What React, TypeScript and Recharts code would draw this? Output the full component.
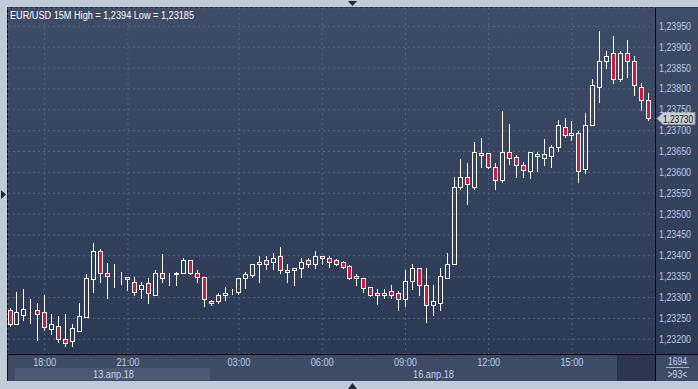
import React from 'react';
import { ComposedChart, Bar, XAxis, YAxis, CartesianGrid, ReferenceLine, Label } from 'recharts';

// ---- data (EUR/USD 15M candles) ----
const opens = [
  1.2327, 1.23236, 1.23259, 1.2327, 1.2327, 1.23265, 1.23225, 1.23231, 1.23201, 1.23195,
  1.23221, 1.23254, 1.23345, 1.23412, 1.2336, 1.23346, 1.2335, 1.2335, 1.23338, 1.2332,
  1.23335, 1.23306, 1.2336, 1.23356, 1.23356, 1.2336, 1.2339, 1.2336, 1.2335, 1.23291,
  1.23291, 1.23305, 1.23314, 1.23314, 1.23346, 1.23354, 1.2338, 1.2339, 1.23385, 1.23399,
  1.23366, 1.23366, 1.2337, 1.2339, 1.2338, 1.23399, 1.23394, 1.2339, 1.23385, 1.23375,
  1.23351, 1.23346, 1.23325, 1.2331, 1.23305, 1.23315, 1.2331, 1.23296, 1.2334, 1.23371,
  1.2333, 1.23282, 1.23286, 1.23347, 1.23381, 1.23565, 1.2359, 1.23565, 1.23646, 1.23646,
  1.23612, 1.23581, 1.2365, 1.23636, 1.23617, 1.23604, 1.23644, 1.23634, 1.23639, 1.23661,
  1.23709, 1.2369, 1.23694, 1.23609, 1.23714, 1.23805, 1.23866, 1.23885, 1.23825, 1.23885,
  1.23866, 1.23805, 1.23774,
];
const highs = [
  1.23274, 1.23314, 1.2332, 1.23297, 1.23288, 1.23306, 1.2326, 1.23256, 1.2326, 1.23237,
  1.23286, 1.23357, 1.2343, 1.23416, 1.23382, 1.2338, 1.23361, 1.2335, 1.2335, 1.23338,
  1.23346, 1.23366, 1.23404, 1.2336, 1.23362, 1.23394, 1.2339, 1.23366, 1.2335, 1.23293,
  1.23312, 1.23325, 1.23321, 1.23347, 1.23362, 1.2338, 1.234, 1.234, 1.23406, 1.23421,
  1.2338, 1.2337, 1.23394, 1.23394, 1.23412, 1.234, 1.234, 1.23392, 1.23387, 1.23377,
  1.23357, 1.23346, 1.23326, 1.23321, 1.23321, 1.2333, 1.23315, 1.23366, 1.23381, 1.23371,
  1.23371, 1.2333, 1.23371, 1.23406, 1.2359, 1.23632, 1.23622, 1.23673, 1.23683, 1.23647,
  1.23622, 1.23748, 1.23716, 1.23641, 1.23626, 1.2365, 1.23649, 1.23681, 1.23666, 1.23726,
  1.23731, 1.23722, 1.237, 1.23742, 1.23825, 1.2394, 1.2389, 1.23927, 1.2389, 1.23917,
  1.2388, 1.23815, 1.23791,
];
const lows = [
  1.23232, 1.23236, 1.23245, 1.2324, 1.23198, 1.23222, 1.23213, 1.23194, 1.23185, 1.23185,
  1.23221, 1.23254, 1.23314, 1.23338, 1.233, 1.23325, 1.23333, 1.23318, 1.23306, 1.233,
  1.23286, 1.23306, 1.23338, 1.2333, 1.2333, 1.2336, 1.23356, 1.23338, 1.2328, 1.23281,
  1.23287, 1.23295, 1.23308, 1.23309, 1.23324, 1.2335, 1.23338, 1.23369, 1.23369, 1.2336,
  1.23338, 1.23329, 1.2335, 1.23374, 1.2337, 1.2338, 1.23374, 1.23378, 1.23372, 1.23344,
  1.23329, 1.23314, 1.23303, 1.23285, 1.233, 1.233, 1.23269, 1.2328, 1.23321, 1.23305,
  1.23241, 1.23258, 1.2327, 1.23347, 1.23381, 1.23561, 1.23524, 1.23561, 1.23612, 1.23611,
  1.23561, 1.23576, 1.23621, 1.2359, 1.23588, 1.23587, 1.23604, 1.23618, 1.23614, 1.23652,
  1.23684, 1.23678, 1.23578, 1.23599, 1.23714, 1.23768, 1.2385, 1.23815, 1.23819, 1.23829,
  1.23785, 1.2375, 1.23725,
];
const closes = [
  1.23236, 1.23265, 1.23273, 1.2327, 1.2326, 1.2323, 1.23236, 1.232, 1.2319, 1.23226,
  1.23255, 1.23346, 1.23411, 1.2336, 1.23351, 1.23346, 1.2335, 1.23345, 1.23314, 1.2333,
  1.2331, 1.2336, 1.23346, 1.23356, 1.2336, 1.2339, 1.2336, 1.2335, 1.23296, 1.23287,
  1.23305, 1.2331, 1.23314, 1.23347, 1.23357, 1.2338, 1.23385, 1.2338, 1.23394, 1.23365,
  1.23361, 1.2337, 1.23385, 1.2338, 1.23399, 1.23394, 1.23385, 1.2338, 1.23374, 1.23346,
  1.23346, 1.23324, 1.23305, 1.23305, 1.2331, 1.23305, 1.23296, 1.2334, 1.23371, 1.2333,
  1.23282, 1.23291, 1.23351, 1.23381, 1.23565, 1.2359, 1.23571, 1.2365, 1.23641, 1.23612,
  1.23581, 1.2365, 1.23635, 1.23617, 1.23605, 1.23649, 1.23639, 1.23644, 1.23661, 1.23714,
  1.2369, 1.23694, 1.23604, 1.23714, 1.2381, 1.23866, 1.2388, 1.23825, 1.23885, 1.23866,
  1.2381, 1.23773, 1.2373,
];
const timeTickIndex = [5, 17, 33, 45, 57, 69, 81];
const timeTickLabels = ['18:00', '21:00', '03:00', '06:00', '09:00', '12:00', '15:00'];
const priceTicks = [1.232, 1.2325, 1.233, 1.2335, 1.234, 1.2345, 1.235, 1.2355, 1.236, 1.2365, 1.237, 1.2375, 1.238, 1.2385, 1.239, 1.2395];
const dateLabels = ['13.апр.18', '16.апр.18'];
const titleText = 'EUR/USD 15M High = 1,2394 Low = 1,23185';
const lastPrice = 1.2373;
const barCountLabel = '1694';
const visibleLabel = '>93<';

const data = opens.map((o, i) => ({
  i,
  o,
  h: highs[i],
  l: lows[i],
  c: closes[i],
  range: [lows[i], highs[i]],
}));

const FONT = '"Liberation Sans", Arial, sans-serif';
const AXIS_TEXT = '#b9cbe6';

const fmtPrice = (v: number) => v.toFixed(5).replace('.', ',');

const Candle = (props: any) => {
  const { x, y, width, height, payload } = props;
  if (payload == null || x == null || y == null) return null;
  const { o, h, l, c } = payload;
  const top = Math.min(y, y + height);
  const bot = Math.max(y, y + height);
  const k = h > l ? (bot - top) / (h - l) : 0;
  const py = (v: number) => top + (h - v) * k;
  const cx = Math.floor(x + width / 2) + 0.5;
  const bTop = Math.round(py(Math.max(o, c))) + 0.5;
  const bBot = Math.round(py(Math.min(o, c))) + 0.5;
  const wTop = Math.round(top);
  const wBot = Math.round(bot) + 1;
  const up = c >= o;
  return (
    <g>
      {wTop < bTop && <line x1={cx} x2={cx} y1={wTop} y2={bTop} stroke="#ffffff" strokeWidth={1} />}
      {wBot > bBot && <line x1={cx} x2={cx} y1={bBot} y2={wBot} stroke="#ffffff" strokeWidth={1} />}
      <rect
        x={cx - 2}
        y={bTop}
        width={4}
        height={Math.max(0, bBot - bTop)}
        fill={up ? 'none' : '#dc143c'}
        stroke="#ffffff"
        strokeWidth={1}
      />
    </g>
  );
};

const YTick = (props: any) => {
  const { y, payload } = props;
  return (
    <text x={659} y={y + 3.5} fill={AXIS_TEXT} fontSize={10} fontFamily={FONT} textLength={32} lengthAdjust="spacingAndGlyphs">
      {fmtPrice(payload.value)}
    </text>
  );
};

const XTick = (props: any) => {
  const { x, payload } = props;
  const idx = timeTickIndex.indexOf(payload.value);
  const label = idx >= 0 ? timeTickLabels[idx] : '';
  return (
    <text x={x} y={366} fill={AXIS_TEXT} fontSize={10} fontFamily={FONT} textAnchor="middle" textLength={23} lengthAdjust="spacingAndGlyphs">
      {label}
    </text>
  );
};

const PriceTag = (props: any) => {
  const vb = props.viewBox || {};
  const y = Math.round(vb.y ?? 0) + 0.5;
  const x0 = (vb.x ?? 0) + (vb.width ?? 0) + 2;
  return (
    <g>
      <path
        d={`M${x0},${y} L${x0 + 6},${y - 6} L${x0 + 38},${y - 6} L${x0 + 38},${y + 6} L${x0 + 6},${y + 6} Z`}
        fill="#c9cdd3"
        stroke="#8e949c"
        strokeWidth={1}
      />
      <text x={x0 + 6} y={y + 4} fill="#111111" fontSize={10} fontFamily={FONT} textLength={30} lengthAdjust="spacingAndGlyphs">
        {fmtPrice(lastPrice)}
      </text>
    </g>
  );
};

export default function App() {
  return (
    <div style={{ position: 'absolute', left: 0, top: 0, width: 698, height: 389, overflow: 'hidden' }}>
      {/* frame & backgrounds */}
      <svg width={698} height={389} style={{ position: 'absolute', left: 0, top: 0 }}>
        <defs>
          <linearGradient id="bgGrad" x1="0" y1="0" x2="0" y2="1">
            <stop offset="0%" stopColor="#3f4c67" />
            <stop offset="100%" stopColor="#2c3955" />
          </linearGradient>
        </defs>
        <rect x={0} y={0} width={698} height={389} fill="#c2ccd9" />
        <rect x={8} y={8} width={690} height={346} fill="url(#bgGrad)" />
        <rect x={8} y={355} width={690} height={26} fill="#3e4b65" />
        <rect x={15} y={368} width={195} height={12} fill="#4b5974" />
        <rect x={618} y={355} width={37} height={26} fill="#2b3651" />
        <rect x={617} y={355} width={1} height={26} fill="#243049" />
        <rect x={7} y={7} width={1} height={374} fill="#0c111c" />
        <rect x={7} y={7} width={691} height={1} fill="#283247" />
        <path d="M348,1 L357,1 L352.5,6 Z" fill="#1d2738" />
        <path d="M348,389 L357,389 L352.5,383 Z" fill="#1d2738" />
        <path d="M1,190 L1,199 L6,194.5 Z" fill="#1d2738" />
      </svg>

      <div style={{ position: 'absolute', left: 0, top: 0 }}>
        <ComposedChart width={698} height={389} data={data} margin={{ top: 8, right: 0, bottom: 0, left: 8 }}>
          <CartesianGrid stroke="#56637e" strokeDasharray="2 3" />
          <XAxis
            dataKey="i"
            type="number"
            domain={[-0.29, 92.97]}
            allowDataOverflow
            ticks={timeTickIndex}
            interval={0}
            height={35}
            axisLine={false}
            tickLine={false}
            tick={<XTick />}
          />
          <YAxis
            type="number"
            orientation="right"
            domain={[1.231647, 1.23994]}
            allowDataOverflow
            ticks={priceTicks}
            interval={0}
            width={43}
            axisLine={false}
            tickLine={false}
            tick={<YTick />}
          />
          <Bar dataKey="range" barSize={5} isAnimationActive={false} shape={(p: any) => <Candle {...p} />} />
          <ReferenceLine y={lastPrice} stroke="none" ifOverflow="visible">
            <Label content={(p: any) => <PriceTag {...p} />} />
          </ReferenceLine>
        </ComposedChart>
      </div>

      {/* overlay lines and texts */}
      <svg width={698} height={389} style={{ position: 'absolute', left: 0, top: 0, pointerEvents: 'none' }}>
        <rect x={655} y={8} width={1} height={373} fill="#000000" />
        <rect x={8} y={354} width={690} height={1} fill="#000000" />
        <text x={10} y={18.5} fill="#ffffff" fontSize={10} fontFamily={FONT} textLength={184} lengthAdjust="spacingAndGlyphs">
          {titleText}
        </text>
        <text x={113.5} y={377.5} fill="#c4d2e8" fontSize={10} fontFamily={FONT} textAnchor="middle" textLength={41} lengthAdjust="spacingAndGlyphs">
          {dateLabels[0]}
        </text>
        <text x={433.5} y={377.5} fill="#c4d2e8" fontSize={10} fontFamily={FONT} textAnchor="middle" textLength={41} lengthAdjust="spacingAndGlyphs">
          {dateLabels[1]}
        </text>
        <text x={677.5} y={365} fill="#c4d2e8" fontSize={10} fontFamily={FONT} textAnchor="middle" textLength={19} lengthAdjust="spacingAndGlyphs">
          {barCountLabel}
        </text>
        <rect x={666} y={367} width={23} height={1} fill="#9fb0c8" />
        <text x={677.5} y={377.5} fill="#c4d2e8" fontSize={10} fontFamily={FONT} textAnchor="middle" textLength={20} lengthAdjust="spacingAndGlyphs">
          {visibleLabel}
        </text>
      </svg>
    </div>
  );
}
